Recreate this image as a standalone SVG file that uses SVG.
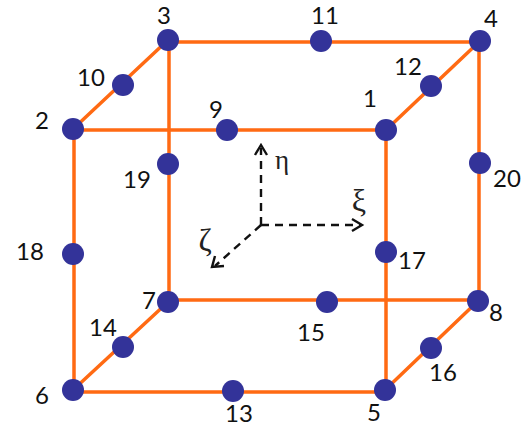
<svg xmlns="http://www.w3.org/2000/svg" width="528" height="433" viewBox="0 0 528 433">
<style>
.e{stroke:#ff6a13;stroke-width:3.5;fill:none}
.n{fill:#333399}
text{font-family:Lato,"Open Sans",sans-serif;font-size:24px;fill:#111;text-anchor:middle}
text.g{font-family:"Liberation Serif",serif;font-size:27px;fill:#222}
text.l{font-size:32px}
.a{stroke:#111;stroke-width:2.4;fill:none;stroke-dasharray:8 6}
.h{stroke:#111;stroke-width:2.4;fill:none}
</style>
<rect width="528" height="433" fill="#fff"/>
<g id="connectors">
<path class="e" d="M168 42H480M73 130H386M168 300H478M73 392H385"/>
<path class="e" d="M74 130V391M169 40V302M386 130V390M479 41V301"/>
<path class="e" d="M168 40L73 129M480 41L386 130M168 302L73 390M478 301L385 390"/>
<path class="a" d="M261 225V148"/>
<path class="a" d="M261 225H360"/>
<path class="a" d="M261 225L215 266"/>
<path class="h" d="M255 155L261 145L267 155M352 219L362 225L352 231M224 266L212 267L215 256"/>
</g>
<g id="n1"><circle class="n" cx="386" cy="130" r="11"/><text x="370" y="107">1</text></g>
<g id="n2"><circle class="n" cx="73" cy="129" r="11"/><text x="42" y="129">2</text></g>
<g id="n3"><circle class="n" cx="168" cy="40" r="11"/><text x="164" y="24">3</text></g>
<g id="n4"><circle class="n" cx="480" cy="41" r="11"/><text x="491" y="27">4</text></g>
<g id="n5"><circle class="n" cx="385" cy="390" r="11"/><text x="374" y="421">5</text></g>
<g id="n6"><circle class="n" cx="73" cy="390" r="11"/><text x="42" y="404">6</text></g>
<g id="n7"><circle class="n" cx="168" cy="302" r="11"/><text x="149" y="309">7</text></g>
<g id="n8"><circle class="n" cx="478" cy="301" r="11"/><text x="496" y="321">8</text></g>
<g id="n9"><circle class="n" cx="227" cy="130" r="11"/><text x="216" y="118">9</text></g>
<g id="n10"><circle class="n" cx="123" cy="85" r="11"/><text x="91" y="86">10</text></g>
<g id="n11"><circle class="n" cx="321" cy="41" r="11"/><text x="325" y="24">11</text></g>
<g id="n12"><circle class="n" cx="431" cy="86" r="11"/><text x="408" y="75">12</text></g>
<g id="n13"><circle class="n" cx="233" cy="391" r="11"/><text x="239" y="422">13</text></g>
<g id="n14"><circle class="n" cx="123" cy="347" r="11"/><text x="103" y="336">14</text></g>
<g id="n15"><circle class="n" cx="327" cy="302" r="11"/><text x="311" y="341">15</text></g>
<g id="n16"><circle class="n" cx="431" cy="348" r="11"/><text x="443" y="381">16</text></g>
<g id="n17"><circle class="n" cx="386" cy="252" r="11"/><text x="412" y="269">17</text></g>
<g id="n18"><circle class="n" cx="73" cy="254" r="11"/><text x="30" y="260">18</text></g>
<g id="n19"><circle class="n" cx="168" cy="164" r="11"/><text x="137" y="188">19</text></g>
<g id="n20"><circle class="n" cx="480" cy="163" r="11"/><text x="507" y="187">20</text></g>
<text class="g" x="282" y="169">η</text>
<text class="g l" x="359" y="211">ξ</text>
<text class="g l" x="205" y="251">ζ</text>
</svg>
